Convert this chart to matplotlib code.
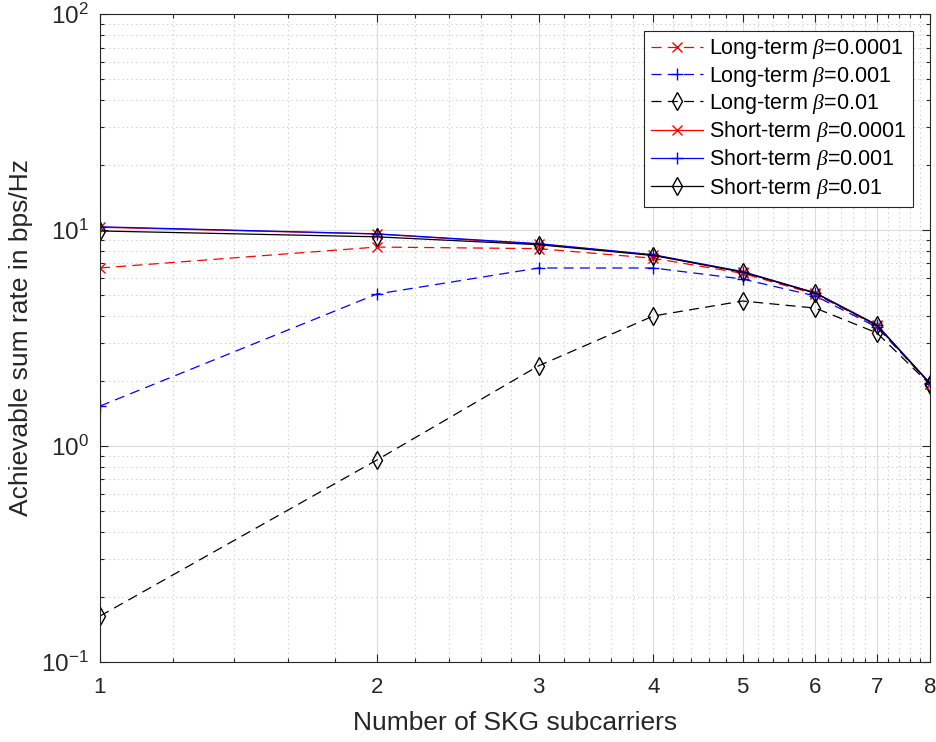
import matplotlib
matplotlib.use('Agg')
import matplotlib.pyplot as plt
import numpy as np
from matplotlib.ticker import FixedLocator, NullFormatter, LogLocator

plt.rcParams['font.family'] = ['Liberation Sans', 'DejaVu Sans']
plt.rcParams['mathtext.fontset'] = 'custom'
plt.rcParams['mathtext.it'] = 'Liberation Serif:italic'
plt.rcParams['mathtext.rm'] = 'Liberation Sans'

# data
subcarriers = [1, 2, 3, 4, 5, 6, 7, 8]
long_1e4 = [6.67, 8.34, 8.2, 7.4, 6.3, 5.05, 3.6, 1.94]
long_1e3 = [1.53, 5.05, 6.67, 6.67, 5.93, 4.95, 3.55, 1.94]
long_1e2 = [0.163, 0.86, 2.35, 4.0, 4.69, 4.35, 3.34, 1.92]
short_1e4 = [10.3, 9.58, 8.6, 7.66, 6.4, 5.11, 3.63, 1.94]
short_1e3 = [10.35, 9.6, 8.65, 7.68, 6.42, 5.12, 3.64, 1.95]
short_1e2 = [9.9, 9.3, 8.55, 7.62, 6.38, 5.1, 3.62, 1.94]
y_ticks = [0.1, 1, 10, 100]
y_ticklabels = [r'$\mathregular{10^{-1}}$', r'$\mathregular{10^{0}}$',
                r'$\mathregular{10^{1}}$', r'$\mathregular{10^{2}}$']

fig = plt.figure(figsize=(9.37, 7.42), dpi=100)
ax = fig.add_axes([0.1067, 0.108, 0.886, 0.873])

lw = 0.9
dash = (8, 5)
ax.plot(subcarriers, long_1e4, 'r--x', lw=lw, ms=7, dashes=dash, label=r'Long-term $\beta$=0.0001')
ax.plot(subcarriers, long_1e3, 'b--+', lw=lw, ms=9, dashes=dash, label=r'Long-term $\beta$=0.001')
ax.plot(subcarriers, long_1e2, 'k--d', lw=lw, ms=9, dashes=dash, mfc='none', label=r'Long-term $\beta$=0.01')
ax.plot(subcarriers, short_1e4, 'r-x', lw=lw, ms=7, label=r'Short-term $\beta$=0.0001')
ax.plot(subcarriers, short_1e3, 'b-+', lw=lw, ms=9, label=r'Short-term $\beta$=0.001')
ax.plot(subcarriers, short_1e2, 'k-d', lw=lw, ms=9, mfc='none', label=r'Short-term $\beta$=0.01')

ax.set_xscale('log')
ax.set_yscale('log')
ax.set_xlim(1, 8)
ax.set_ylim(0.1, 100)

ax.xaxis.set_major_locator(FixedLocator(subcarriers))
ax.set_xticklabels([str(s) for s in subcarriers])
minor_x = [round(v, 1) for v in np.arange(1.2, 8.0, 0.2) if abs(v - round(v)) > 1e-6]
ax.xaxis.set_minor_locator(FixedLocator(minor_x))
ax.xaxis.set_minor_formatter(NullFormatter())
ax.yaxis.set_major_locator(FixedLocator(y_ticks))
ax.set_yticklabels(y_ticklabels, fontsize=17.5)
ax.yaxis.set_minor_locator(LogLocator(base=10, subs=np.arange(2, 10), numticks=20))
ax.yaxis.set_minor_formatter(NullFormatter())

ax.grid(True, which='major', color='#dcdcdc', lw=0.8, ls='-')
ax.grid(True, which='minor', color='#c8c8c8', lw=0.8, ls=(0, (1, 3)))
ax.set_axisbelow(True)

ax.tick_params(which='both', direction='in', top=True, right=True, colors='#262626')
ax.tick_params(axis='x', labelsize=16)
ax.tick_params(which='major', length=6, width=0.8)
ax.tick_params(which='minor', length=3, width=0.8)
ax.tick_params(axis='x', which='both', pad=11)
ax.tick_params(axis='y', which='both', pad=8)
for s in ax.spines.values():
    s.set_color('#262626')
    s.set_linewidth(0.8)

ax.set_xlabel('Number of SKG subcarriers', fontsize=19, color='#262626', labelpad=9)
ax.set_ylabel('Achievable sum rate in bps/Hz', fontsize=19, color='#262626', labelpad=6)

leg = ax.legend(loc='upper right', bbox_to_anchor=(0.979, 0.974), borderaxespad=0, fontsize=15.5,
                fancybox=False, framealpha=1, edgecolor='#262626',
                handlelength=2.45, handletextpad=0.25, labelspacing=0.15, borderpad=0.3)
leg.get_frame().set_linewidth(0.8)

fig.savefig('out.png', dpi=100)
